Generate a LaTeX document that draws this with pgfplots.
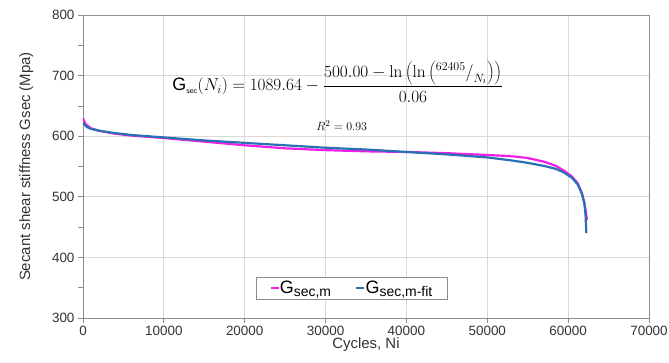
\documentclass[border=0pt]{standalone}
\usepackage{pgfplots}
\pgfplotsset{compat=1.18}
\usepackage[no-math]{fontspec}
\setmainfont{Liberation Sans}
\definecolor{gmag}{RGB}{240,30,230}
\definecolor{gblue}{RGB}{40,112,178}
\definecolor{gridc}{RGB}{217,217,217}
\definecolor{axc}{RGB}{140,140,140}
\newcommand{\lsub}[1]{\raisebox{-3bp}{\fontsize{14}{16}\selectfont #1}}
\begin{document}
\begin{tikzpicture}
\useasboundingbox (-83bp,-45bp) rectangle (586bp,318bp);
\begin{axis}[
  at={(0,0)}, anchor=south west,
  scale only axis,
  width=566bp, height=303bp,
  xmin=0, xmax=70000, ymin=300, ymax=800,
  xtick={0,10000,...,70000},
  ytick={300,400,...,800},
  minor ytick={350,450,...,750},
  scaled x ticks=false,
  /pgf/number format/assume math mode=true,
  x tick label style={/pgf/number format/.cd, 1000 sep={}, fixed},
  tick label style={font=\fontsize{13.5}{16}\selectfont, color=black!80},
  label style={font=\fontsize{15}{17}\selectfont, color=black!80},
  tick align=outside,
  major tick length=5bp, minor tick length=5bp,
  tick style={axc, line width=0.8pt},
  xtick pos=bottom, ytick pos=left,
  grid=major,
  major grid style={gridc, line width=0.8pt},
  axis line style={axc, line width=0.9pt},
  xlabel={Cycles, Ni},
  ylabel={Secant shear stiffness Gsec (Mpa)},
  xlabel style={yshift=5bp},
  ylabel style={yshift=12bp},
  legend style={at={(0.474,0.099)}, anchor=center, legend columns=2,
    draw=axc, font=\fontsize{18}{20}\selectfont, inner xsep=14bp, inner ysep=2bp,
    /tikz/every even column/.append style={column sep=24bp}},
  legend cell align=left,
  legend image code/.code={\draw[#1, line width=1.6pt] (0bp,0bp) -- (8bp,0bp);},
  legend style={nodes={inner xsep=0.5bp}},
]
\addplot[gmag, line width=2.2pt] coordinates {
(0,630) (300,620) (1000,613) (2000,609) (4000,604) (6000,601) (10000,597)
(15000,591) (20000,585) (25000,580) (30000,577) (35000,575) (40000,574)
(45000,572) (50000,569) (53000,567) (55000,564) (57000,558) (58500,551)
(59500,543) (60500,533) (61200,522) (61700,506) (62000,490) (62200,475) (62320,462)
};
\addlegendentry{G\lsub{sec,m}}
\addplot[gblue, line width=2.2pt] coordinates {
(0,622) (500,615) (1000,612) (2000,609) (4000,605) (6000,602) (10000,598)
(15000,593) (20000,589) (25000,585) (30000,581) (35000,578) (40000,574)
(45000,570) (50000,565) (53000,560) (55000,556) (57000,551) (58500,546)
(59500,540) (60500,531) (61200,520) (61700,505) (62000,490) (62150,470) (62250,440)
};
\addlegendentry{G\lsub{sec,m-fit}}
\node[anchor=center] at (axis cs:31500,690)
  {\fontsize{18}{20}\selectfont G\textsubscript{\fontsize{7}{8}\selectfont sec}%
   $\displaystyle(N_i) = 1089.64 - \frac{500.00 - \ln\left(\ln\left({}^{62405}\big/_{N_i}\right)\right)}{0.06}$};
\node[font=\fontsize{13}{15}\selectfont] at (axis cs:32000,618) {$R^2 = 0.93$};
\end{axis}
\end{tikzpicture}
\end{document}
